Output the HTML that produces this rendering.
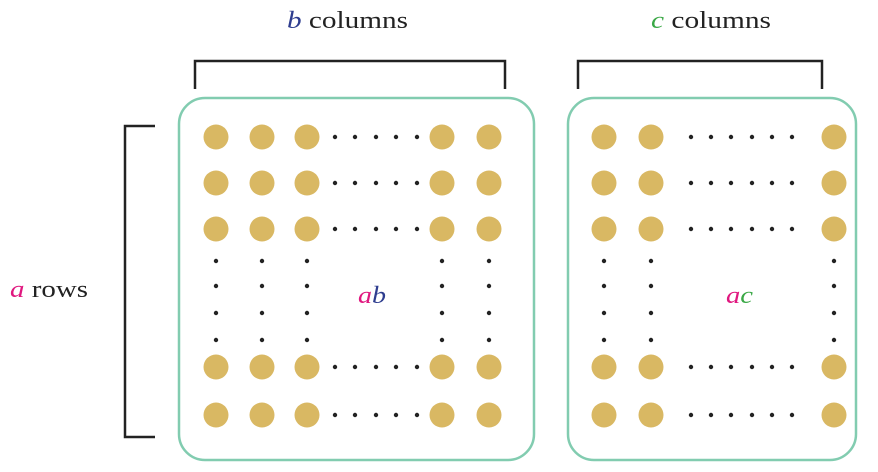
<!DOCTYPE html>
<html><head><meta charset="utf-8"><style>
body{margin:0;background:#fff;}
svg{display:block}
text{font-family:"Liberation Serif",serif;font-size:24px;fill:#222}
</style></head><body>
<svg width="878" height="472" viewBox="0 0 878 472">
<g fill="none" stroke="#222" stroke-width="2.5">
<path d="M195 89V61H505V89"/>
<path d="M578 89V61H822V89"/>
<path d="M155 126H125V437H155"/>
</g>
<rect x="179" y="98" width="355" height="362" rx="26" fill="none" stroke="#82ccb0" stroke-width="2.5"/>
<rect x="568" y="98" width="288" height="362" rx="26" fill="none" stroke="#82ccb0" stroke-width="2.5"/>
<text x="287" y="28" textLength="121" lengthAdjust="spacingAndGlyphs"><tspan fill="#2e3d8f" font-style="italic">b</tspan> columns</text>
<text x="651" y="28" textLength="120" lengthAdjust="spacingAndGlyphs"><tspan fill="#3aa846" font-style="italic">c</tspan> columns</text>
<text x="10" y="297" textLength="78" lengthAdjust="spacingAndGlyphs"><tspan fill="#e0177f" font-style="italic">a</tspan> rows</text>
<text x="358" y="303" textLength="28" lengthAdjust="spacingAndGlyphs" font-style="italic"><tspan fill="#e0177f">a</tspan><tspan fill="#2e3d8f">b</tspan></text>
<text x="726" y="303" textLength="27" lengthAdjust="spacingAndGlyphs" font-style="italic"><tspan fill="#e0177f">a</tspan><tspan fill="#3aa846">c</tspan></text>
<g id="dots"></g>
</svg>
<script>
const g=document.getElementById('dots');
const rows=[137,183,229,367,415];
const vdots=[261,286,313,340];
function c(x,y,r,f,name){const e=document.createElementNS('http://www.w3.org/2000/svg','circle');
e.setAttribute('cx',x);e.setAttribute('cy',y);e.setAttribute('r',r);e.setAttribute('fill',f);


g.appendChild(e);}
const leftCols=[216,262,307,442,489], leftSmall=[335,355,376,396,417];
const rightCols=[604,651,834], rightSmall=[691,711,731,752,772,792];
rows.forEach(y=>{
 leftCols.forEach(x=>c(x,y,12.5,'#d9b863','counter'));
 leftSmall.forEach(x=>c(x,y,2.2,'#222','ellipsis-dot'));
 rightCols.forEach(x=>c(x,y,12.5,'#d9b863','counter'));
 rightSmall.forEach(x=>c(x,y,2.2,'#222','ellipsis-dot'));
});
vdots.forEach(y=>{[...leftCols,...rightCols].forEach(x=>c(x,y,2.2,'#222','ellipsis-dot'));});
</script>
</body></html>
